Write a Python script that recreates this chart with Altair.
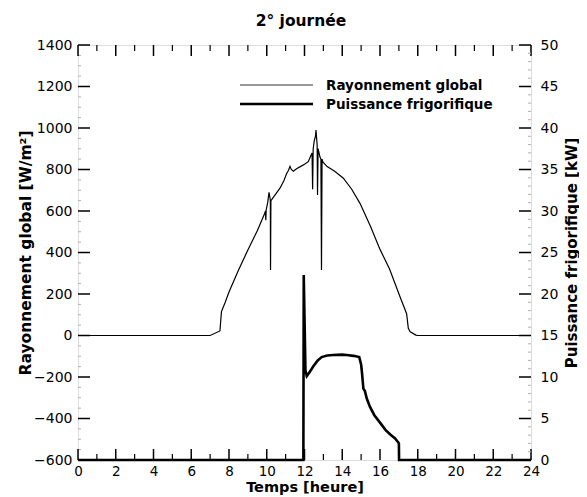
import altair as alt
import pandas as pd

# ---- data ----
ray_hours = [0, 7.0, 7.52, 7.6, 7.8, 8.0, 8.5, 9.0, 9.5, 9.9, 9.93, 9.95, 9.97, 10.05, 10.12,
             10.16, 10.19, 10.2, 10.22, 10.3, 10.5, 10.7, 10.9, 11.06, 11.15, 11.23, 11.3,
             11.41, 11.6, 11.8, 12.0, 12.2, 12.35, 12.4, 12.43, 12.46, 12.52, 12.58, 12.61,
             12.64, 12.67, 12.69, 12.72, 12.77, 12.82, 12.87, 12.9, 12.93, 12.98, 13.2, 13.6,
             14.06, 14.5, 14.94, 15.5, 16.0, 16.5, 17.06, 17.41, 17.5, 17.6, 17.9, 18.0, 24.0]
ray_values = [0, 0, 22, 115, 160, 210, 315, 412, 505, 590, 600, 555, 605, 640, 690,
              670, 650, 316, 650, 660, 685, 710, 745, 782, 795, 815, 800,
              792, 805, 815, 825, 838, 870, 880, 705, 900, 940, 960, 990,
              950, 920, 677, 900, 880, 860, 850, 316, 850, 835, 814, 792,
              758, 705, 637, 525, 415, 322, 187, 105, 35, 18, 2, 0, 0]

pf_hours = [0, 11.94, 11.96, 12.05, 12.12, 12.3, 12.47, 12.7, 12.91, 13.2, 13.52, 14.0,
            14.23, 14.6, 14.9, 15.0, 15.05, 15.12, 15.2, 15.3, 15.47, 15.7, 16.0, 16.3,
            16.53, 16.8, 16.97, 17.0, 17.01, 24.0]
pf_values = [0, 0, 22.3, 10.8, 10.1, 10.7, 11.3, 12.0, 12.4, 12.6, 12.65, 12.7,
             12.65, 12.55, 12.4, 11.5, 10.4, 8.6, 8.3, 7.4, 6.4, 5.4, 4.5, 3.6,
             3.1, 2.6, 2.1, 2.0, 0, 0]

x_major = list(range(0, 25, 2))
x_minor = list(range(1, 24, 2))
left_major = list(range(-600, 1401, 200))
left_minor = [v for v in range(-600, 1401, 50) if v % 200 != 0]
right_major = list(range(0, 51, 5))
right_minor = [v for v in range(0, 51) if v % 5 != 0]

legend_labels = ["Rayonnement global", "Puissance frigorifique"]

title_text = "2° journée"
x_title = "Temps [heure]"
left_title = "Rayonnement global [W/m²]"
right_title = "Puissance frigorifique [kW]"

# ---- layout ----
W, H = 453, 415
FONT = "DejaVu Sans"

ray_df = pd.DataFrame({"h": ray_hours, "w": ray_values})
pf_df = pd.DataFrame({"h": pf_hours, "k": pf_values})

xenc = alt.X("h:Q", scale=alt.Scale(domain=[0, 24], nice=False, zero=False),
             title=x_title,
             axis=alt.Axis(values=x_major, ticks=False, domain=False, grid=False,
                           format="d",
                           labelFont=FONT, labelFontSize=13.5, labelColor="black",
                           labelPadding=4, labelFlush=False,
                           titleFont=FONT, titleFontSize=14.5, titleFontWeight="bold",
                           titleColor="black", titleY=27.5, titleBaseline="middle"))

yL = alt.Y("w:Q", scale=alt.Scale(domain=[-600, 1400], nice=False, zero=False),
           title=left_title,
           axis=alt.Axis(values=left_major, ticks=False, domain=False, grid=False,
                         orient="left", format="d",
                         labelFont=FONT, labelFontSize=14, labelColor="black",
                         labelPadding=6, labelFlush=False,
                         titleFont=FONT, titleFontSize=15.5, titleFontWeight="bold",
                         titleColor="black", titleX=-53, titleY=H / 2,
                         titleAngle=270, titleAlign="center", titleBaseline="middle"))

yR = alt.Y("k:Q", scale=alt.Scale(domain=[0, 50], nice=False, zero=False),
           title=right_title,
           axis=alt.Axis(values=right_major, ticks=False, domain=False, grid=False,
                         orient="right", format="d",
                         labelFont=FONT, labelFontSize=14, labelColor="black",
                         labelPadding=9, labelFlush=False,
                         titleFont=FONT, titleFontSize=15, titleFontWeight="bold",
                         titleColor="black", titleX=40, titleY=H / 2,
                         titleAngle=270, titleAlign="center", titleBaseline="middle"))

ray_line = alt.Chart(ray_df).mark_line(color="black", strokeWidth=1.2).encode(
    x=xenc, y=yL, order="h:Q")

pf_line = alt.Chart(pf_df).mark_line(color="black", strokeWidth=2.6).encode(
    x=xenc, y=yR, order="h:Q")

# ticks (inward)
xmaj_df = pd.DataFrame({"h": x_major})
xmin_df = pd.DataFrame({"h": x_minor})
bottom_major = alt.Chart(xmaj_df).mark_rule(color="black", strokeWidth=1.5).encode(
    x=xenc, y=alt.value(H), y2=alt.value(H - 11))
bottom_minor = alt.Chart(xmin_df).mark_rule(color="black", strokeWidth=1.2).encode(
    x=xenc, y=alt.value(H), y2=alt.value(H - 6))
top_major = alt.Chart(xmaj_df).mark_rule(color="black", strokeWidth=1.5).encode(
    x=xenc, y=alt.value(0), y2=alt.value(11))
top_minor = alt.Chart(xmin_df).mark_rule(color="black", strokeWidth=1.2).encode(
    x=xenc, y=alt.value(0), y2=alt.value(6))

lmaj = alt.Chart(pd.DataFrame({"w": left_major})).mark_rule(color="black", strokeWidth=1.5).encode(
    y=yL, x=alt.value(0), x2=alt.value(12))
lmin = alt.Chart(pd.DataFrame({"w": left_minor})).mark_rule(color="#b0b0b0", strokeWidth=1).encode(
    y=yL, x=alt.value(0), x2=alt.value(3))

rmaj = alt.Chart(pd.DataFrame({"k": right_major})).mark_rule(color="black", strokeWidth=1.5).encode(
    y=yR, x=alt.value(W), x2=alt.value(W - 12))
rmin = alt.Chart(pd.DataFrame({"k": right_minor})).mark_rule(color="#b0b0b0", strokeWidth=1).encode(
    y=yR, x=alt.value(W), x2=alt.value(W - 3))

# legend (inside plot)
leg1_line = alt.Chart(pd.DataFrame({"l": [legend_labels[0]]})).mark_rule(
    color="#333333", strokeWidth=1).encode(x=alt.value(162), x2=alt.value(235), y=alt.value(40))
leg2_line = alt.Chart(pd.DataFrame({"l": [legend_labels[1]]})).mark_rule(
    color="black", strokeWidth=2.4).encode(x=alt.value(162), x2=alt.value(235), y=alt.value(59))
leg1_text = alt.Chart(pd.DataFrame({"l": [legend_labels[0]]})).mark_text(
    font=FONT, fontSize=13.5, fontWeight="bold", align="left", baseline="middle", color="black"
).encode(text="l:N", x=alt.value(248), y=alt.value(41))
leg2_text = alt.Chart(pd.DataFrame({"l": [legend_labels[1]]})).mark_text(
    font=FONT, fontSize=13.5, fontWeight="bold", align="left", baseline="middle", color="black"
).encode(text="l:N", x=alt.value(248), y=alt.value(60))

# chart title as a text mark above the plot
title_mark = alt.Chart(pd.DataFrame({"t": [title_text]})).mark_text(
    font=FONT, fontSize=15.5, fontWeight="bold", align="center", baseline="alphabetic",
    color="black").encode(text="t:N", x=alt.value(223), y=alt.value(-19))

left = alt.layer(ray_line, lmaj, lmin, bottom_major, bottom_minor, top_major, top_minor,
                 leg1_line, leg2_line, leg1_text, leg2_text, title_mark)
right = alt.layer(pf_line, rmaj, rmin)

chart = alt.layer(left, right).resolve_scale(y="independent").properties(
    width=W, height=H,
    autosize="none",
    padding={"left": 70, "top": 37, "right": 48, "bottom": 37},
).configure_view(stroke="black", strokeWidth=2).configure(background="white")

chart.save("out.html", embed_options={"renderer": "svg", "actions": False})
